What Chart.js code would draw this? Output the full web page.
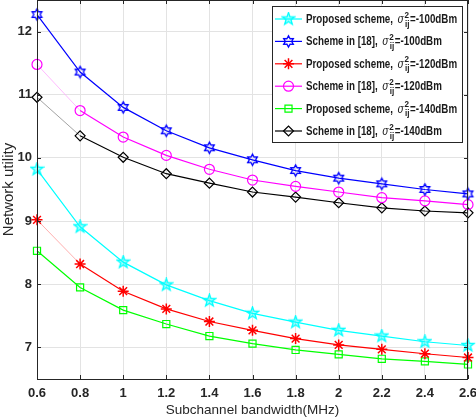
<!DOCTYPE html>
<html>
<head>
<meta charset="utf-8">
<script src="https://cdn.jsdelivr.net/npm/chart.js@4.4.1/dist/chart.umd.min.js"></script>
<style>
  html, body { margin: 0; padding: 0; background: #fff; }
  #wrap { width: 476px; height: 419px; }
</style>
</head>
<body>
<div id="wrap"><canvas id="utilChart" width="476" height="419"></canvas></div>
<script>
// data
const xLabels = ['0.6', '0.8', '1', '1.2', '1.4', '1.6', '1.8', '2', '2.2', '2.4', '2.6'];
const yTicks = [7, 8, 9, 10, 11, 12];
const proposed100 = [9.82, 8.91, 8.35, 7.99, 7.74, 7.54, 7.40, 7.27, 7.18, 7.09, 7.03];
const scheme100 = [12.27, 11.36, 10.80, 10.43, 10.16, 9.97, 9.80, 9.68, 9.59, 9.50, 9.43];
const proposed120 = [9.02, 8.32, 7.89, 7.61, 7.41, 7.27, 7.14, 7.04, 6.97, 6.90, 6.84];
const scheme120 = [11.48, 10.75, 10.33, 10.04, 9.82, 9.65, 9.55, 9.46, 9.37, 9.32, 9.26];
const proposed140 = [8.53, 7.95, 7.59, 7.37, 7.18, 7.06, 6.96, 6.89, 6.82, 6.78, 6.73];
const scheme140 = [10.96, 10.35, 10.01, 9.75, 9.60, 9.46, 9.38, 9.29, 9.21, 9.16, 9.13];
const seriesNames = ['Proposed scheme,', 'Scheme in [18],', 'Proposed scheme,', 'Scheme in [18],', 'Proposed scheme,', 'Scheme in [18],'];
const noiseLevels = ['-100dBm', '-100dBm', '-120dBm', '-120dBm', '-140dBm', '-140dBm'];

const FONT = '"Liberation Sans", Arial, sans-serif';

// marker images, drawn like the matlab ones
function makeMarker(kind, color) {
  const c = document.createElement('canvas');
  c.width = 15; c.height = 15;
  const g = c.getContext('2d');
  g.strokeStyle = color;
  g.lineWidth = 1.3;
  const cx = 7.5, cy = 7.5;
  g.beginPath();
  if (kind === 'pentagram') {
    for (let i = 0; i < 10; i++) {
      const r = i % 2 === 0 ? 6.5 : 2.6;
      const a = -Math.PI / 2 + i * Math.PI / 5;
      const px = cx + r * Math.cos(a), py = cy + r * Math.sin(a);
      if (i === 0) g.moveTo(px, py); else g.lineTo(px, py);
    }
    g.closePath();
    g.fillStyle = 'rgba(0,255,255,0.35)';
    g.fill();
  } else if (kind === 'hexagram') {
    for (let i = 0; i < 12; i++) {
      const r = i % 2 === 0 ? 5.6 : 3.2;
      const a = -Math.PI / 2 + i * Math.PI / 6;
      const px = cx + r * Math.cos(a), py = cy + r * Math.sin(a);
      if (i === 0) g.moveTo(px, py); else g.lineTo(px, py);
    }
    g.closePath();
  }
  g.stroke();
  return c;
}

const pentaImg = makeMarker('pentagram', '#00ffff');
const hexaImg = makeMarker('hexagram', '#0000ff');

const datasets = [
  { data: proposed100, borderColor: '#00ffff', pointStyle: pentaImg, pointRadius: 6, pointBorderWidth: 1.3 },
  { data: scheme100, borderColor: '#0000ff', pointStyle: hexaImg, pointRadius: 6, pointBorderWidth: 1.3 },
  { data: proposed120, borderColor: '#ff0000', pointStyle: 'star', pointRadius: 5.5, pointBorderWidth: 1.5, firstColor: '#ff9a9a' },
  { data: scheme120, borderColor: '#ff00ff', pointStyle: 'circle', pointRadius: 5, pointBorderWidth: 1.2, firstColor: '#ffa8ff' },
  { data: proposed140, borderColor: '#00ff00', pointStyle: 'rect', pointRadius: 5, pointBorderWidth: 1.2 },
  { data: scheme140, borderColor: '#000000', pointStyle: 'rectRot', pointRadius: 5, pointBorderWidth: 1.2, firstColor: '#8a8a8a' }
].map((d, i) => ({
  label: seriesNames[i] + ' ' + noiseLevels[i],
  data: d.data,
  borderColor: d.borderColor,
  borderWidth: 1.2,
  backgroundColor: 'rgba(0,0,0,0)',
  pointStyle: d.pointStyle,
  pointRadius: d.pointRadius,
  pointBorderWidth: d.pointBorderWidth,
  pointBorderColor: d.borderColor,
  pointBackgroundColor: 'rgba(0,0,0,0)',
  tension: 0,
  fill: false,
  segment: d.firstColor ? {
    borderColor: ctx => ctx.p0DataIndex === 0 ? d.firstColor : undefined,
    borderWidth: ctx => ctx.p0DataIndex === 0 ? 0.8 : undefined
  } : undefined
}));

// text squeezed sideways a bit, like the exported figure
function squeezedText(ctx, txt, x, y, sx) {
  ctx.save();
  ctx.translate(x, y);
  ctx.scale(sx, 1);
  ctx.fillText(txt, 0, 0);
  ctx.restore();
  return ctx.measureText(txt).width * sx;
}

// box, inner ticks and the legend with the sigma notation
const matlabBits = {
  id: 'matlabBits',
  afterDraw(chart) {
    const ctx = chart.ctx;
    const a = chart.chartArea;
    const xs = chart.scales.x, ys = chart.scales.y;
    ctx.save();
    ctx.strokeStyle = '#262626';
    ctx.lineWidth = 1;
    ctx.beginPath();
    for (let i = 0; i < xLabels.length; i++) {
      const px = Math.round(xs.getPixelForValue(i)) + 0.5;
      ctx.moveTo(px, a.bottom); ctx.lineTo(px, a.bottom - 4);
      ctx.moveTo(px, a.top); ctx.lineTo(px, a.top + 4);
    }
    yTicks.forEach(v => {
      const py = Math.round(ys.getPixelForValue(v)) + 0.5;
      ctx.moveTo(a.left, py); ctx.lineTo(a.left + 4, py);
      ctx.moveTo(a.right, py); ctx.lineTo(a.right - 4, py);
    });
    ctx.stroke();
    ctx.strokeRect(Math.round(a.left) + 0.5, Math.round(a.top) + 0.5, Math.round(a.right - a.left) - 1, Math.round(a.bottom - a.top));

    // legend
    const bx = 272.5, by = 6.5, bw = 190, bh = 136;
    ctx.fillStyle = '#fff';
    ctx.fillRect(bx, by, bw, bh);
    ctx.strokeStyle = '#262626';
    ctx.strokeRect(bx, by, bw, bh);
    ctx.font = 'bold 12px ' + FONT;
    const sx = 87 / ctx.measureText('Proposed scheme,').width;
    chart.data.datasets.forEach((ds, i) => {
      const ry = 19 + i * 22.4;
      ctx.strokeStyle = ds.borderColor;
      ctx.lineWidth = 1.2;
      ctx.beginPath();
      ctx.moveTo(275, ry); ctx.lineTo(302, ry);
      ctx.stroke();
      ctx.fillStyle = 'rgba(0,0,0,0)';
      ctx.lineWidth = ds.pointBorderWidth;
      Chart.helpers.drawPoint(ctx, {
        pointStyle: ds.pointStyle, radius: ds.pointRadius, borderWidth: ds.pointBorderWidth, rotation: 0
      }, 288.5, ry);
      ctx.fillStyle = '#1a1a1a';
      ctx.textBaseline = 'alphabetic';
      let tx = 306;
      const base = ry + 4;
      ctx.font = 'bold 12px ' + FONT;
      tx += squeezedText(ctx, seriesNames[i], tx, base, sx) + 4.5;
      ctx.font = 'italic 12px "DejaVu Serif", serif';
      tx += squeezedText(ctx, 'σ', tx, base, 0.8) + 0.5;
      ctx.font = 'bold 9px ' + FONT;
      const w2 = squeezedText(ctx, '2', tx, base - 5.5, 0.9);
      const wij = squeezedText(ctx, 'ij', tx + 0.5, base + 3.5, 0.9);
      tx += Math.max(w2, wij) + 1;
      ctx.font = 'bold 12px ' + FONT;
      squeezedText(ctx, '=' + noiseLevels[i], tx, base, sx);
    });
    ctx.restore();
  }
};

const ctx = document.getElementById('utilChart').getContext('2d');
new Chart(ctx, {
  type: 'line',
  data: { labels: xLabels, datasets },
  plugins: [matlabBits],
  options: {
    responsive: false,
    animation: false,
    layout: { autoPadding: false, padding: { top: 0, right: 8, bottom: 0, left: 0 } },
    plugins: { legend: { display: false }, tooltip: { enabled: false } },
    scales: {
      x: {
        type: 'category',
        offset: false,
        grid: { color: '#e3e3e3', drawTicks: false },
        border: { display: false },
        ticks: {
          color: '#262626', padding: 7, maxRotation: 0,
          font: { family: FONT, size: 13, weight: 'bold' }
        },
        title: {
          display: true, text: 'Subchannel bandwidth(MHz)', color: '#262626',
          padding: { top: 0, bottom: 1 },
          font: { family: FONT, size: 13.5 }
        },
        afterFit: s => { s.height = 40; s.paddingLeft = 0; s.paddingRight = 0; }
      },
      y: {
        min: 6.5, max: 12.5,
        grid: { color: '#e3e3e3', drawTicks: false },
        border: { display: false },
        afterBuildTicks: s => { s.ticks = yTicks.map(v => ({ value: v })); },
        ticks: {
          color: '#262626', padding: 5,
          font: { family: FONT, size: 13, weight: 'bold' }
        },
        title: {
          display: true, text: 'Network utility', color: '#262626',
          padding: { top: 0, bottom: 0 },
          font: { family: FONT, size: 15 }
        },
        afterFit: s => { s.width = 37; s.paddingTop = 0; s.paddingBottom = 0; }
      }
    }
  }
});
</script>
</body>
</html>
